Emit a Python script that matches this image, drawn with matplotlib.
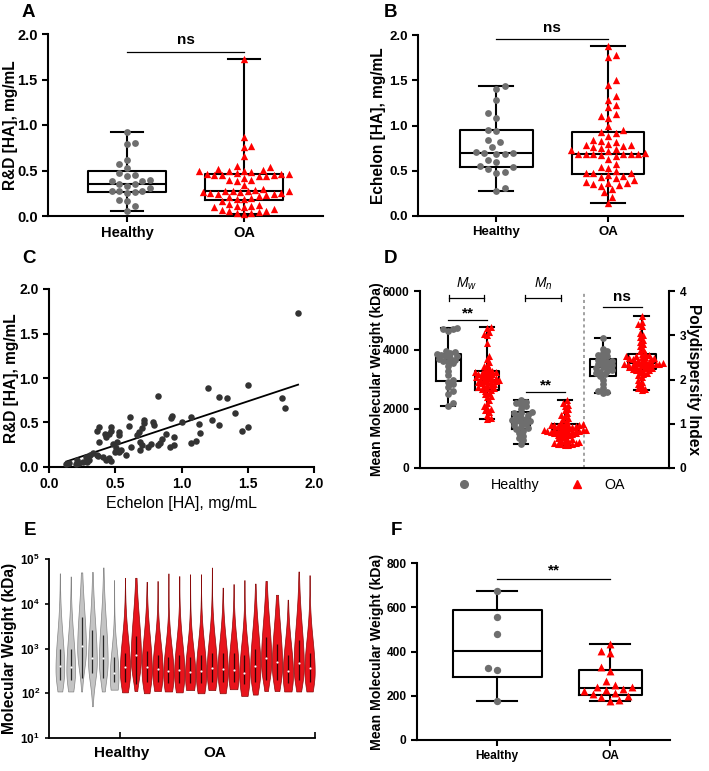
import numpy as np
import matplotlib.pyplot as plt
from matplotlib.lines import Line2D
from matplotlib.ticker import NullLocator

plt.rcParams['font.family'] = ['Liberation Sans', 'DejaVu Sans']
plt.rcParams['mathtext.fontset'] = 'custom'
plt.rcParams['mathtext.rm'] = 'Liberation Sans'
plt.rcParams['mathtext.it'] = 'Liberation Sans:italic'
plt.rcParams['mathtext.bf'] = 'Liberation Sans:bold'

# ---------------- data ----------------
groups = ['Healthy', 'OA']

# A: R&D [HA] (mg/mL)
rd_healthy = [0.06, 0.11, 0.16, 0.18, 0.25, 0.26, 0.27, 0.27, 0.28, 0.31, 0.33, 0.35, 0.35,
              0.38, 0.39, 0.40, 0.44, 0.45, 0.47, 0.53, 0.57, 0.61, 0.79, 0.80, 0.92]
rd_oa = [0.02, 0.03, 0.03, 0.04, 0.05, 0.06, 0.07, 0.08, 0.10, 0.10, 0.11, 0.11, 0.12, 0.13, 0.17,
         0.19, 0.19, 0.20, 0.21, 0.22, 0.23, 0.24, 0.24, 0.25, 0.25, 0.26, 0.26, 0.27, 0.27, 0.28,
         0.28, 0.29, 0.30, 0.34, 0.39, 0.40, 0.40, 0.42, 0.44, 0.44, 0.45, 0.45, 0.45, 0.46, 0.46,
         0.46, 0.47, 0.48, 0.49, 0.50, 0.50, 0.51, 0.52, 0.54, 0.55, 0.66, 0.76, 0.77, 0.87, 1.72]

# B: Echelon [HA] (mg/mL)
ech_healthy = [0.28, 0.31, 0.48, 0.49, 0.52, 0.54, 0.55, 0.60, 0.62, 0.69, 0.69, 0.70, 0.70,
               0.71, 0.76, 0.82, 0.84, 0.94, 0.95, 1.08, 1.14, 1.28, 1.40, 1.44]
ech_oa = [0.14, 0.21, 0.26, 0.30, 0.33, 0.34, 0.35, 0.36, 0.37, 0.38, 0.40, 0.42, 0.43, 0.44,
          0.45, 0.47, 0.47, 0.48, 0.50, 0.53, 0.54, 0.58, 0.63, 0.66, 0.67, 0.68, 0.68, 0.68,
          0.69, 0.69, 0.69, 0.70, 0.72, 0.73, 0.74, 0.75, 0.76, 0.77, 0.78, 0.79, 0.80, 0.82,
          0.83, 0.84, 0.88, 0.92, 0.93, 0.95, 1.00, 1.08, 1.10, 1.13, 1.20, 1.23, 1.28, 1.33,
          1.45, 1.50, 1.76, 1.78, 1.88]

# C: paired Echelon vs R&D
c_ech = [1.88, 1.76, 1.78, 1.50, 1.20, 0.82, 1.28, 1.34, 1.40, 1.23, 1.28, 1.50, 1.46, 1.13,
         1.14, 1.07, 1.00, 1.11, 1.07, 0.93, 0.92, 0.94, 0.94, 0.91, 0.885, 0.85, 0.82, 0.835,
         0.785, 0.79, 0.745, 0.77, 0.72, 0.715, 0.70, 0.68, 0.665, 0.685, 0.70, 0.685, 0.62,
         0.61, 0.60, 0.53, 0.525, 0.47, 0.47, 0.45, 0.42, 0.365, 0.38, 0.43, 0.48, 0.51, 0.505,
         0.525, 0.545, 0.58, 0.495, 0.43, 0.465, 0.45, 0.36, 0.37, 0.33, 0.31, 0.28, 0.30, 0.29,
         0.26, 0.23, 0.20, 0.15, 0.13, 0.21, 0.41, 0.38]
c_rd = [1.73, 0.77, 0.665, 0.925, 0.89, 0.80, 0.79, 0.78, 0.61, 0.53, 0.47, 0.45, 0.40, 0.48,
        0.38, 0.56, 0.51, 0.29, 0.27, 0.57, 0.545, 0.34, 0.245, 0.23, 0.37, 0.31, 0.245, 0.27,
        0.51, 0.47, 0.225, 0.255, 0.53, 0.49, 0.44, 0.395, 0.36, 0.28, 0.245, 0.195, 0.22,
        0.56, 0.46, 0.36, 0.395, 0.45, 0.41, 0.375, 0.375, 0.41, 0.28, 0.34, 0.26, 0.28, 0.215,
        0.17, 0.19, 0.13, 0.17, 0.08, 0.065, 0.10, 0.13, 0.12, 0.16, 0.14, 0.11, 0.075, 0.055,
        0.055, 0.04, 0.035, 0.05, 0.035, 0.075, 0.11, 0.45]

# D: Mw, Mn (kDa) and polydispersity index
mw_healthy = [2100, 2200, 2500, 2600, 2750, 2850, 2930, 3000, 3150, 3300, 3450, 3550, 3600, 3640,
              3670, 3700, 3740, 3780, 3800, 3820, 3850, 3890, 3920, 3950, 4650, 4700, 4720, 4740]
mw_oa = [1660, 1700, 1800, 1900, 1950, 2000, 2050, 2100, 2200, 2300, 2400, 2450, 2500, 2550, 2620,
         2650, 2680, 2700, 2720, 2750, 2780, 2800, 2830, 2850, 2880, 2900, 2920, 2940, 2950, 2970,
         2990, 3000, 3020, 3040, 3060, 3080, 3100, 3120, 3150, 3170, 3190, 3210, 3230, 3250, 3250,
         3280, 3300, 3350, 3400, 3450, 3500, 3600, 3700, 3800, 4250, 4500, 4550, 4600, 4750, 4780]
mn_healthy = [830, 950, 1000, 1100, 1200, 1250, 1320, 1350, 1400, 1450, 1500, 1550, 1580, 1600,
              1640, 1660, 1700, 1750, 1800, 1850, 1880, 1910, 2000, 2100, 2150, 2200, 2250, 2320]
mn_oa = [780, 790, 800, 820, 830, 850, 860, 880, 900, 920, 950, 980, 1000, 1050, 1100, 1115,
         1130, 1150, 1160, 1180, 1200, 1210, 1220, 1230, 1240, 1250, 1255, 1260, 1270, 1275, 1285,
         1290, 1300, 1310, 1330, 1350, 1380, 1400, 1420, 1430, 1440, 1450, 1455, 1460, 1465, 1480,
         1500, 1550, 1600, 1650, 1700, 1750, 1800, 1850, 1950, 2000, 2100, 2150, 2200, 2290]
pdi_healthy = [1.70, 1.72, 1.75, 1.80, 1.90, 2.00, 2.08, 2.12, 2.15, 2.18, 2.20, 2.22, 2.25, 2.28,
               2.30, 2.32, 2.35, 2.38, 2.40, 2.42, 2.45, 2.48, 2.52, 2.55, 2.60, 2.65, 2.70, 2.94]
pdi_oa = [1.76, 1.78, 1.80, 1.85, 1.90, 1.95, 2.00, 2.05, 2.10, 2.12, 2.15, 2.18, 2.20, 2.21, 2.22,
          2.24, 2.25, 2.26, 2.27, 2.28, 2.30, 2.31, 2.32, 2.33, 2.34, 2.34, 2.35, 2.35, 2.36, 2.36,
          2.37, 2.38, 2.39, 2.40, 2.42, 2.43, 2.45, 2.46, 2.47, 2.48, 2.49, 2.50, 2.51, 2.52, 2.52,
          2.55, 2.58, 2.60, 2.65, 2.70, 2.75, 2.80, 2.85, 2.90, 2.95, 3.00, 3.05, 3.20, 3.25, 3.30,
          3.43]

# E: per-sample MW distributions, log10(kDa) summaries (6 healthy, 18 OA)
vio_healthy = [True] * 6 + [False] * 18
vio_min = [2.04, 2.04, 2.04, 1.71, 2.04, 2.08,
           2.02, 2.05, 2.00, 2.05, 2.04, 2.02, 2.07, 2.00, 2.07, 2.00, 2.09, 1.94, 1.97, 2.05,
           2.05, 2.04, 2.04, 2.04]
vio_max = [4.68, 4.61, 4.70, 4.71, 4.81, 4.53,
           4.58, 4.58, 4.49, 4.51, 4.68, 4.62, 4.66, 4.66, 4.81, 4.36, 4.44, 4.53, 4.45, 4.51,
           4.20, 4.09, 4.72, 4.64]
vio_med = [2.61, 2.58, 3.06, 2.78, 2.78, 2.45,
           2.58, 2.86, 2.58, 2.55, 2.49, 2.51, 2.47, 2.49, 2.56, 2.55, 2.52, 2.46, 2.61, 2.78,
           2.69, 2.49, 2.67, 2.56]
vio_q1 = [2.30, 2.30, 2.35, 2.45, 2.35, 2.25,
          2.25, 2.20, 2.25, 2.25, 2.22, 2.22, 2.22, 2.22, 2.25, 2.25, 2.25, 2.20, 2.25, 2.30,
          2.30, 2.22, 2.30, 2.25]
vio_q3 = [3.00, 3.00, 3.70, 3.42, 3.30, 2.80,
          2.90, 3.27, 2.95, 2.85, 2.80, 2.85, 2.80, 2.85, 2.90, 2.90, 2.90, 2.85, 3.00, 3.25,
          3.10, 2.85, 3.20, 2.90]

# F: mean molecular weight per sample (kDa)
mmw_healthy = [178, 318, 325, 480, 558, 675]
mmw_oa = [178, 180, 196, 200, 207, 212, 222, 228, 232, 238, 240, 250, 265, 312, 328, 395, 402, 432]

GRAY = '#6e6e6e'
RED = '#ff0000'

W, H = 709, 771
fig = plt.figure(figsize=(W / 100, H / 100), dpi=100)


def px_axes(l, t, r, b):
    return fig.add_axes([l / W, 1 - b / H, (r - l) / W, (b - t) / H])


def style(ax, fs=10.5):
    for s in ['top', 'right']:
        ax.spines[s].set_visible(False)
    for s in ['left', 'bottom']:
        ax.spines[s].set_linewidth(1.5)
    ax.tick_params(width=1.5, length=4, labelsize=fs)
    for lab in ax.get_xticklabels() + ax.get_yticklabels():
        lab.set_fontweight('bold')


def ylabel_at(ax, text, off_px, fs=11.2, weight='bold', rot=90):
    ax.set_ylabel(text, fontsize=fs, fontweight=weight, rotation=rot)
    w = ax.get_position().width * W
    ax.yaxis.set_label_coords(off_px / w, 0.5)
    ax.yaxis.label.set_verticalalignment('center')


def box_stats(v):
    q1, med, q3 = np.percentile(v, [25, 50, 75], method='weibull')
    return dict(med=med, q1=q1, q3=q3, whislo=min(v), whishi=max(v), fliers=[])


def boxes(ax, data, pos, widths, capw, lw=1.5):
    pr = dict(color='black', linewidth=lw)
    ax.bxp([box_stats(d) for d in data], positions=pos, widths=widths, capwidths=capw,
           showfliers=False, boxprops=pr, whiskerprops=pr, capprops=pr, medianprops=pr,
           manage_ticks=False, zorder=2)


def swarm(ax, vals, pos, marker, color, size, d_px, step=0.55):
    x0, x1 = ax.get_xlim()
    y0, y1 = ax.get_ylim()
    bb = ax.get_position()
    ppx = bb.width * W / (x1 - x0)
    ppy = bb.height * H / (y1 - y0)
    ys = np.asarray(vals, float) * ppy
    xs = np.zeros(len(ys))
    done = []
    for n, i in enumerate(np.argsort(ys)):
        sgn = 1 if n % 2 else -1
        cands = [0.0]
        for k in range(1, 60):
            cands += [sgn * k * d_px * step, -sgn * k * d_px * step]
        for c in cands:
            if all((c - xs[j]) ** 2 + (ys[i] - ys[j]) ** 2 >= d_px ** 2 for j in done):
                xs[i] = c
                break
        done.append(i)
    ax.scatter(pos + xs / ppx, vals, marker=marker, s=size, color=color, linewidths=0,
               zorder=3, clip_on=False)


def sig(ax, x0, x1, y, text, ty, fs=11):
    ax.plot([x0, x1], [y, y], color='black', lw=0.9, clip_on=False)
    ax.text((x0 + x1) / 2, ty, text, ha='center', va='center', fontsize=fs,
            fontweight='bold', clip_on=False)


def letter(x, y, s):
    fig.text(x / W, 1 - y / H, s, fontsize=13.5, fontweight='bold', va='top', ha='left')


# ---------------- A ----------------
axA = px_axes(48, 34, 323, 216)
axA.set_xlim(-0.675, 1.675)
axA.set_ylim(0, 2.0)
axA.set_yticks([0, 0.5, 1.0, 1.5, 2.0])
axA.set_xticks([0, 1])
axA.set_xticklabels(groups, fontsize=11.2)
boxes(axA, [rd_healthy, rd_oa], [0, 1], 0.66, 0.28)
swarm(axA, rd_healthy, 0, 'o', GRAY, 24, 7.0)
swarm(axA, rd_oa, 1, '^', RED, 28, 6.8)
sig(axA, 0, 1, 1.80, 'ns', 1.93)
style(axA)
ylabel_at(axA, 'R&D [HA], mg/mL', -38)
letter(22, 4, 'A')

# ---------------- B ----------------
axB = px_axes(418, 35, 683, 216)
axB.set_xlim(-0.70, 1.67)
axB.set_ylim(0, 2.0)
axB.set_yticks([0, 0.5, 1.0, 1.5, 2.0])
axB.set_xticks([0, 1])
axB.set_xticklabels(groups, fontsize=11.2)
boxes(axB, [ech_healthy, ech_oa], [0, 1], 0.65, 0.30)
swarm(axB, ech_healthy, 0, 'o', GRAY, 24, 7.5)
swarm(axB, ech_oa, 1, '^', RED, 28, 6.8)
sig(axB, 0, 1, 1.956, 'ns', 2.08)
style(axB, 9.5)
ylabel_at(axB, 'Echelon [HA], mg/mL', -40)
letter(384, 4, 'B')

# ---------------- C ----------------
axC = px_axes(49, 289, 314, 467)
axC.set_xlim(0, 2.0)
axC.set_ylim(0, 2.0)
axC.set_xticks([0, 0.5, 1.0, 1.5, 2.0])
axC.set_yticks([0, 0.5, 1.0, 1.5, 2.0])
axC.scatter(c_ech, c_rd, s=22, color='#333333', linewidths=0, zorder=3, clip_on=False)
slope, icpt = np.polyfit(c_ech, c_rd, 1)
xf = np.array([min(c_ech), max(c_ech)])
axC.plot(xf, slope * xf + icpt, color='black', lw=1.3)
style(axC, 10)
ylabel_at(axC, 'R&D [HA], mg/mL', -37)
axC.set_xlabel('Echelon [HA], mg/mL', fontsize=11.5, labelpad=3)
letter(22, 250, 'C')

# ---------------- D ----------------
axD = px_axes(420, 291, 669, 468)
axD.set_xlim(0.28, 6.67)
axD.set_ylim(0, 6000)
axD.set_yticks([0, 2000, 4000, 6000])
axD.set_xticks([])
axD2 = axD.twinx()
axD2.set_ylim(0, 4)
axD2.set_yticks([0, 1, 2, 3, 4])
boxes(axD, [mw_healthy, mw_oa, mn_healthy, mn_oa], [1, 2, 2.87, 4.0],
      [0.64, 0.62, 0.45, 0.68], [0.38, 0.38, 0.38, 0.38])
boxes(axD2, [pdi_healthy, pdi_oa], [4.97, 5.97], [0.67, 0.71], [0.38, 0.38])
swarm(axD, mw_healthy, 1, 'o', GRAY, 24, 4.2)
swarm(axD, mw_oa, 2, '^', RED, 26, 3.2)
swarm(axD, mn_healthy, 2.87, 'o', GRAY, 24, 4.2)
swarm(axD, mn_oa, 4.0, '^', RED, 26, 3.2)
swarm(axD2, pdi_healthy, 4.97, 'o', GRAY, 24, 4.2)
swarm(axD2, pdi_oa, 5.97, '^', RED, 26, 3.2)
axD.axvline(4.5, color='#888888', lw=1.1, ls=(0, (2, 2)))
for xa, xb, lab in [(1.03, 1.92, '$M_w$'), (2.97, 3.9, '$M_n$')]:
    axD.plot([xa, xb], [5763, 5763], color='black', lw=0.9, clip_on=False)
    axD.plot([xa, xa], [5650, 5876], color='black', lw=0.9, clip_on=False)
    axD.plot([xb, xb], [5650, 5876], color='black', lw=0.9, clip_on=False)
    axD.text((xa + xb) / 2, 6230, lab, ha='center', va='center', fontsize=10, clip_on=False)
sig(axD, 1, 2, 5017, '**', 5250)
sig(axD, 3.0, 4.0, 2576, '**', 2810)
sig(axD, 4.97, 5.97, 5458, 'ns', 5800)
style(axD, 8.6)
for s in ['top', 'left']:
    axD2.spines[s].set_visible(False)
axD2.spines['right'].set_linewidth(1.5)
axD2.tick_params(width=1.5, length=4, labelsize=8.6)
for lab in axD2.get_yticklabels():
    lab.set_fontweight('bold')
ylabel_at(axD, 'Mean Molecular Weight (kDa)', -43, fs=10.1)
axD2.set_ylabel('Polydispersity Index', fontsize=11.2, fontweight='bold', rotation=270)
axD2.yaxis.set_label_coords(1 + 24 / 249, 0.5)
axD2.yaxis.label.set_verticalalignment('center')
handles = [Line2D([], [], marker='o', ls='none', color=GRAY, markersize=5.5),
           Line2D([], [], marker='^', ls='none', color=RED, markersize=5.5)]
fig.legend(handles, groups, loc='center', bbox_to_anchor=(537 / W, 1 - 485 / H), ncol=2,
           frameon=False, fontsize=10.3, handletextpad=0.9, columnspacing=1.6)
letter(384, 250, 'D')

# ---------------- E ----------------
axE = px_axes(49, 559, 315, 738)
axE.set_yscale('log')
axE.set_ylim(10, 1e5)
axE.set_xlim(0, 24.5)
positions = np.arange(1, len(vio_min) + 1)
for p, h, lo, hi, md, a, b in zip(positions, vio_healthy, vio_min, vio_max, vio_med,
                                  vio_q1, vio_q3):
    u = np.linspace(lo, hi, 300)
    m = md - 0.08
    s_hi = min(max(b - a, 0.35) * 1.1, 0.9)
    g = np.where(u < m, np.exp(-0.5 * ((u - m) / 0.45) ** 2),
                 np.exp(-0.5 * ((u - m) / s_hi) ** 2))
    f = np.maximum(g, 0.06 * (hi - u) / (hi - m))
    half = (0.40 if h else 0.47) * f / f.max()
    fc, ec = ('#c4c4c4', '#858585') if h else ('#e8141c', '#8a0a0a')
    axE.fill_betweenx(10 ** u, p - half, p + half, facecolor=fc, edgecolor=ec, lw=0.5,
                      zorder=2)
    axE.vlines(p, 10 ** a, 10 ** b, color='black', lw=0.9, alpha=0.8, zorder=3)
    axE.scatter([p], [10 ** md], s=2.5, color='white', linewidths=0, zorder=4)
axE.set_yticks([10, 100, 1e3, 1e4, 1e5])
axE.set_yticklabels([r'$\mathbf{10^{%d}}$' % k for k in range(1, 6)])
axE.yaxis.set_minor_locator(NullLocator())
axE.set_xticks([6.5, 24.5])
axE.set_xticklabels([])
for s in ['top', 'right']:
    axE.spines[s].set_visible(False)
for s in ['left', 'bottom']:
    axE.spines[s].set_linewidth(1.3)
axE.tick_params(axis='y', width=1.2, length=3, labelsize=8.5)
axE.tick_params(axis='x', direction='in', width=1.2, length=4)
axE.text(6.7, -0.085, 'Healthy', transform=axE.get_xaxis_transform(), ha='center',
         va='center', fontsize=11, fontweight='bold')
axE.text(15.3, -0.085, 'OA', transform=axE.get_xaxis_transform(), ha='center',
         va='center', fontsize=11, fontweight='bold')
ylabel_at(axE, 'Molecular Weight (kDa)', -39)
letter(24, 522, 'E')

# ---------------- F ----------------
axF = px_axes(417, 563, 670, 740)
axF.set_xlim(-0.71, 1.53)
axF.set_ylim(0, 800)
axF.set_yticks([0, 200, 400, 600, 800])
axF.set_xticks([0, 1])
axF.set_xticklabels(groups, fontsize=11)
boxes(axF, [mmw_healthy, mmw_oa], [0, 1], [0.79, 0.56], [0.35, 0.35])
swarm(axF, mmw_healthy, 0, 'o', GRAY, 28, 8.0)
swarm(axF, mmw_oa, 1, '^', RED, 32, 8.0)
sig(axF, 0, 1, 728, '**', 768)
style(axF, 8.6)
ylabel_at(axF, 'Mean Molecular Weight (kDa)', -40, fs=10.2)
letter(391, 522, 'F')

fig.savefig('out.png', dpi=100)
